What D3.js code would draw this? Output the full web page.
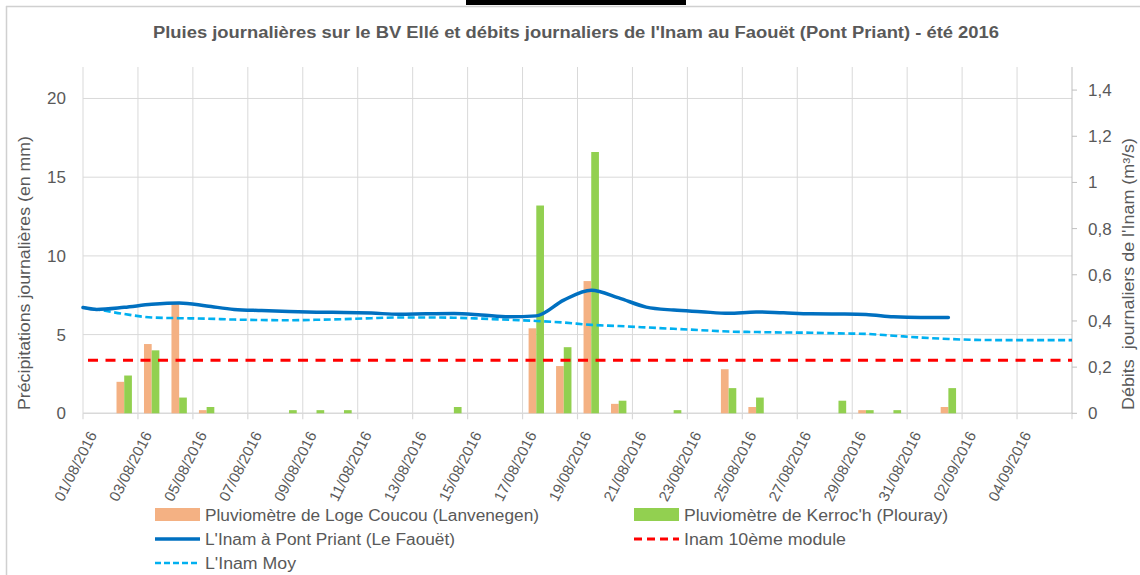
<!DOCTYPE html>
<html><head><meta charset="utf-8">
<script src="https://cdn.jsdelivr.net/npm/d3@7"></script>
<style>
body{margin:0;background:#fff}
text{font-family:"Liberation Sans",Arial,sans-serif;fill:#595959}
</style>
</head><body><svg id="c" width="1140" height="575"></svg>
<script>
const categories = ["01/08/2016","02/08/2016","03/08/2016","04/08/2016","05/08/2016","06/08/2016","07/08/2016","08/08/2016","09/08/2016","10/08/2016","11/08/2016","12/08/2016","13/08/2016","14/08/2016","15/08/2016","16/08/2016","17/08/2016","18/08/2016","19/08/2016","20/08/2016","21/08/2016","22/08/2016","23/08/2016","24/08/2016","25/08/2016","26/08/2016","27/08/2016","28/08/2016","29/08/2016","30/08/2016","31/08/2016","01/09/2016","02/09/2016","03/09/2016","04/09/2016","05/09/2016"];
const tickLabels = ["01/08/2016","03/08/2016","05/08/2016","07/08/2016","09/08/2016","11/08/2016","13/08/2016","15/08/2016","17/08/2016","19/08/2016","21/08/2016","23/08/2016","25/08/2016","27/08/2016","29/08/2016","31/08/2016","02/09/2016","04/09/2016"];
const logeCoucou = [0,2.0,4.4,7.0,0.2,0,0,0,0,0,0,0,0,0,0,0,5.4,3.0,8.4,0.6,0,0,0,2.8,0.4,0,0,0,0.2,0,0,0.4,0,0,0,0];
const kerroch    = [0,2.4,4.0,1.0,0.4,0,0,0.2,0.2,0.2,0,0,0,0.4,0,0,13.2,4.2,16.6,0.8,0,0.2,0,1.6,1.0,0,0,0.8,0.2,0.2,0,1.6,0,0,0,0];
const inamDays = [0,0.5,1.5,2.5,3.5,4.5,5.5,6.5,7.5,8.5,9.5,10.5,11.5,12.5,13.5,14.5,15.5,16.5,17.5,18.5,19.5,20.5,21.5,22.5,23.5,24.5,25.5,26.5,27.5,28.5,29.5,30.5,31.5];
const inamPontPriant = [0.458,0.450,0.459,0.472,0.478,0.465,0.450,0.445,0.441,0.438,0.437,0.434,0.429,0.431,0.432,0.426,0.418,0.422,0.490,0.533,0.500,0.460,0.447,0.440,0.433,0.439,0.435,0.431,0.430,0.428,0.418,0.415,0.415];
const moyDays = [0,0.5,1.5,2.5,3.5,4.5,5.5,6.5,7.5,8.5,9.5,10.5,11.5,12.5,13.5,14.5,15.5,16.5,17.5,18.5,19.5,20.5,21.5,22.5,23.5,24.5,25.5,26.5,27.5,28.5,29.5,30.5,31.5,32.5,33.5,34.5,35.5,36];
const inamMoy = [0.458,0.450,0.430,0.415,0.412,0.410,0.406,0.404,0.403,0.405,0.408,0.412,0.415,0.415,0.414,0.410,0.405,0.400,0.393,0.383,0.378,0.372,0.366,0.360,0.354,0.352,0.350,0.349,0.346,0.344,0.336,0.328,0.322,0.318,0.317,0.317,0.317,0.317];
const moduleDays = [0,36];
const inam10Module = [0.23,0.23];
const leftTicks = [0,5,10,15,20];
const rightTicks = [0,0.2,0.4,0.6,0.8,1,1.2,1.4];
const rightTickLabels = ["0","0,2","0,4","0,6","0,8","1","1,2","1,4"];

const C = {orange:"#F4B183", green:"#92D050", blue:"#0070C0", light:"#00B0F0", red:"#FF0000", grid:"#D9D9D9", axis:"#BFBFBF"};
const L = 83, R = 1072, T = 67, B = 413.3;
const svg = d3.select("#c");
svg.append("rect").attr("width",1140).attr("height",575).attr("fill","#fff");
// chart border (top & left) + selection mark
svg.append("line").attr("x1",6).attr("x2",1140).attr("y1",6.5).attr("y2",6.5).attr("stroke","#D0D0D0").attr("stroke-width",1.5);
svg.append("line").attr("x1",6.5).attr("x2",6.5).attr("y1",6).attr("y2",575).attr("stroke","#D0D0D0").attr("stroke-width",1.5);
svg.append("rect").attr("x",466).attr("y",0).attr("width",220).attr("height",5).attr("fill","#000");

const xBand = d3.scaleBand().domain(categories).range([L,R]).padding(0);
const xDay = d3.scaleLinear().domain([0,categories.length]).range([L,R]);
const yL = d3.scaleLinear().domain([0,22]).range([B,T]);
const yR = d3.scaleLinear().domain([0,1.5]).range([B,T]);

// horizontal gridlines
svg.append("g").selectAll("line").data(leftTicks.filter(d=>d>0)).join("line")
  .attr("x1",L).attr("x2",R).attr("y1",d=>yL(d)).attr("y2",d=>yL(d))
  .attr("stroke",C.grid).attr("stroke-width",1);
// vertical gridlines every 2 categories
const vIdx = d3.range(0, categories.length+1, 2);
svg.append("g").selectAll("line").data(vIdx.filter(i=>i>0 && i<categories.length)).join("line")
  .attr("x1",i=>xDay(i)).attr("x2",i=>xDay(i)).attr("y1",T).attr("y2",B)
  .attr("stroke",C.grid).attr("stroke-width",1);
// left axis line
svg.append("line").attr("x1",L).attr("x2",L).attr("y1",T).attr("y2",B).attr("stroke",C.grid);
// bottom axis + ticks
svg.append("line").attr("x1",L).attr("x2",R).attr("y1",B).attr("y2",B).attr("stroke",C.grid).attr("stroke-width",1.5);
svg.append("g").selectAll("line").data(vIdx).join("line")
  .attr("x1",i=>xDay(i)).attr("x2",i=>xDay(i)).attr("y1",B).attr("y2",B+6)
  .attr("stroke",C.grid).attr("stroke-width",1.2);
// right axis
svg.append("line").attr("x1",R).attr("x2",R).attr("y1",T).attr("y2",B).attr("stroke",C.axis);
svg.append("g").selectAll("line").data(rightTicks).join("line")
  .attr("x1",R).attr("x2",R+5).attr("y1",d=>yR(d)).attr("y2",d=>yR(d)).attr("stroke",C.axis);

// bars
const bw = xBand.bandwidth()*0.28;
const bars = svg.append("g");
bars.selectAll(".o").data(categories).join("rect").attr("class","o")
  .attr("x",d=>xBand(d)+xBand.bandwidth()/2-bw).attr("width",bw)
  .attr("y",(d,i)=>yL(logeCoucou[i])).attr("height",(d,i)=>B-yL(logeCoucou[i]))
  .attr("fill",C.orange);
bars.selectAll(".g").data(categories).join("rect").attr("class","g")
  .attr("x",d=>xBand(d)+xBand.bandwidth()/2).attr("width",bw)
  .attr("y",(d,i)=>yL(kerroch[i])).attr("height",(d,i)=>B-yL(kerroch[i]))
  .attr("fill",C.green);

// lines
const line = d3.line().x(d=>xDay(d[0])).y(d=>yR(d[1])).curve(d3.curveMonotoneX);
svg.append("path").attr("d",line(moyDays.map((d,i)=>[d,inamMoy[i]])))
  .attr("fill","none").attr("stroke",C.light).attr("stroke-width",2.6).attr("stroke-dasharray","7,3.5");
svg.append("path").attr("d",line(moduleDays.map((d,i)=>[d,inam10Module[i]])))
  .attr("fill","none").attr("stroke",C.red).attr("stroke-width",3).attr("stroke-dasharray","10,7.5").attr("stroke-dashoffset",-5);
svg.append("path").attr("d",line(inamDays.map((d,i)=>[d,inamPontPriant[i]])))
  .attr("fill","none").attr("stroke",C.blue).attr("stroke-width",3.5).attr("stroke-linecap","round");

// left tick labels
svg.append("g").selectAll("text").data(leftTicks).join("text")
  .attr("x",66).attr("y",d=>yL(d)).attr("dy","0.35em").attr("text-anchor","end")
  .style("font-size","17px").text(d=>d);
// right tick labels
svg.append("g").selectAll("text").data(rightTicks).join("text")
  .attr("x",1088).attr("y",d=>yR(d)).attr("dy","0.35em").attr("text-anchor","start")
  .style("font-size","17px").text((d,i)=>rightTickLabels[i]);
// x labels
svg.append("g").selectAll("text").data(tickLabels).join("text")
  .attr("transform",d=>`translate(${xBand(d)+xBand.bandwidth()/2-4},${B+19}) rotate(-63)`)
  .attr("text-anchor","end").attr("dy","0.35em").style("font-size","15px")
  .attr("textLength",76).attr("lengthAdjust","spacingAndGlyphs").text(d=>d);

// title
svg.append("text").attr("x",576).attr("y",32).attr("text-anchor","middle").attr("dominant-baseline","central")
  .style("font-size","16px").style("font-weight","bold")
  .attr("textLength",846).attr("lengthAdjust","spacingAndGlyphs")
  .text("Pluies journalières sur le BV Ellé et débits journaliers de l'Inam au Faouët (Pont Priant) - été 2016");
// axis titles
svg.append("text").attr("transform","translate(24,273) rotate(-90)").attr("text-anchor","middle").attr("dominant-baseline","central")
  .style("font-size","16px").attr("textLength",274).attr("lengthAdjust","spacingAndGlyphs")
  .text("Précipitations journalières (en mm)");
svg.append("text").attr("transform","translate(1128,274) rotate(-90)").attr("text-anchor","middle").attr("dominant-baseline","central")
  .style("font-size","16px").style("white-space","pre").attr("textLength",272).attr("lengthAdjust","spacingAndGlyphs")
  .text("Débits  journaliers de l'Inam (m³/s)");

// legend
const legend = [
  {label:"Pluviomètre de Loge Coucou (Lanvenegen)", type:"rect", color:C.orange, x:155, y:515, w:334},
  {label:"Pluviomètre de Kerroc'h (Plouray)", type:"rect", color:C.green, x:634, y:515, w:264},
  {label:"L'Inam à Pont Priant (Le Faouët)", type:"line", color:C.blue, x:155, y:539, w:250, width:3.5, dash:null},
  {label:"Inam 10ème module", type:"line", color:C.red, x:634, y:539, w:162, width:3, dash:"8,5"},
  {label:"L'Inam Moy", type:"line", color:C.light, x:155, y:563, w:91, width:2.5, dash:"6,3"}
];
const lg = svg.append("g");
legend.forEach(e=>{
  if(e.type==="rect"){
    lg.append("rect").attr("x",e.x).attr("y",e.y-7).attr("width",45).attr("height",13).attr("fill",e.color);
  } else {
    const p = lg.append("line").attr("x1",e.x).attr("x2",e.x+45).attr("y1",e.y).attr("y2",e.y)
      .attr("stroke",e.color).attr("stroke-width",e.width);
    if(e.dash) p.attr("stroke-dasharray",e.dash);
  }
  lg.append("text").attr("x",e.x+50).attr("y",e.y).attr("dominant-baseline","central")
    .style("font-size","16px").attr("textLength",e.w).attr("lengthAdjust","spacingAndGlyphs").text(e.label);
});
</script>
</body></html>
